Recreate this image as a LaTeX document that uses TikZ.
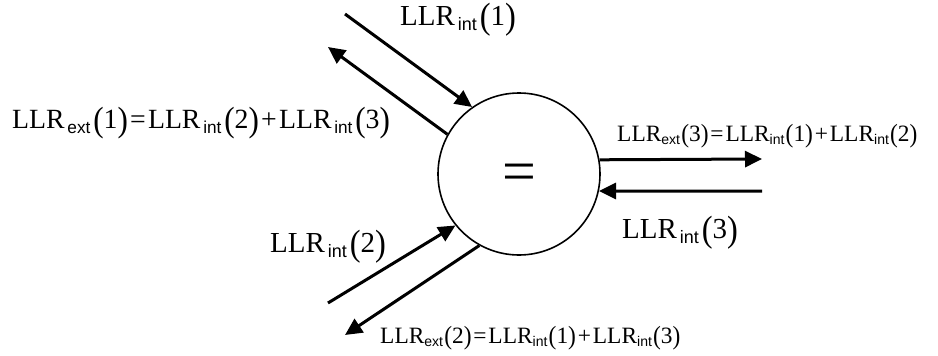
\documentclass[tikz,border=0pt]{standalone}
\usepackage{fontspec}
\setmainfont{Liberation Serif}
\setsansfont{Liberation Sans}
\usetikzlibrary{arrows.meta}
\newcommand{\bigpar}[1]{\raisebox{-0.12em}{\scalebox{1.12}[1.26]{#1}}}
\newcommand{\smpar}[1]{\raisebox{-0.06em}{\scalebox{1}[1.12]{#1}}}
\newcommand{\llr}[2]{LLR\kern0.1em\raisebox{-0.2em}{\scalebox{0.62}{\sffamily #1}}\kern0.1em\bigpar{(}#2\bigpar{)}}
\newcommand{\llrs}[2]{LLR\raisebox{-0.15em}{\scalebox{0.6}{\sffamily #1}}\kern0.05em\smpar{(}#2\smpar{)}}
\newcommand{\op}[1]{\kern0.08em#1\kern0.08em}
\begin{document}
\begin{tikzpicture}[x=1pt,y=-1pt,
  arr/.style={line width=3pt,-{Triangle[length=17pt,width=16pt]}},
  lbl/.style={inner sep=0pt,anchor=base west,font=\fontsize{29}{31}\selectfont},
  slbl/.style={inner sep=0pt,anchor=base west,font=\fontsize{23.4}{25}\selectfont}]
\useasboundingbox (0,0) rectangle (938,356);
\node[circle,draw,line width=1.6pt,minimum size=162pt,inner sep=0pt] (c) at (519,174) {};
\node[inner sep=0pt,font=\fontsize{60}{62}\selectfont] (eq) at (519,178) {=};
% connector endpoints
\coordinate (a1) at (345,14);
\coordinate (b1) at (328,47);
\coordinate (a3) at (762,159);
\coordinate (b3) at (762,191);
\coordinate (a2) at (328,303);
\coordinate (b2) at (345,335);
\draw[arr] (a1) -- (c.125.7);
\draw[arr] (c.151.8) -- (b1);
\draw[arr] (c.10.7) -- (a3);
\draw[arr] (b3) -- (c.-12.1);
\draw[arr] (a2) -- (c.219.4);
\draw[arr] (c.241.2) -- (b2);
% labels
\node[lbl] (l1) at (400,25) {\llr{int}{1}};
\node[lbl,font=\fontsize{27.8}{30}\selectfont] (le1) at (12,128) {\llr{ext}{1}\op{=}\llr{int}{2}\op{+}\llr{int}{3}};
\node[slbl] (le3) at (617,141) {\llrs{ext}{3}\op{=}\llrs{int}{1}\op{+}\llrs{int}{2}};
\node[lbl] (l3) at (622,238) {\llr{int}{3}};
\node[lbl] (l2) at (270,252) {\llr{int}{2}};
\node[slbl] (le2) at (380,343) {\llrs{ext}{2}\op{=}\llrs{int}{1}\op{+}\llrs{int}{3}};
\end{tikzpicture}
\end{document}
